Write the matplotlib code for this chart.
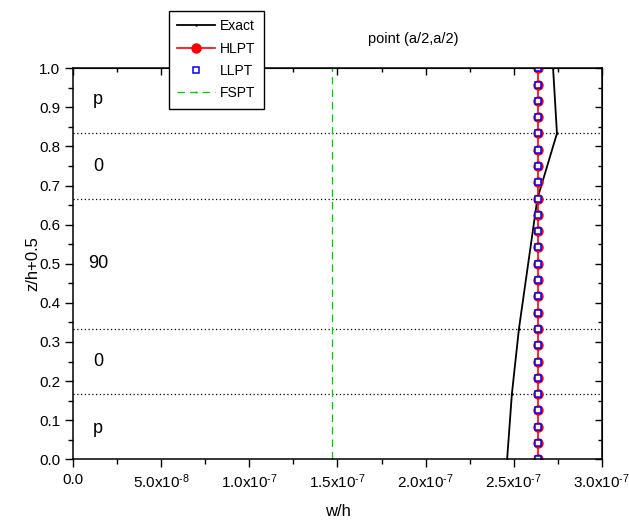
import numpy as np
import matplotlib
matplotlib.use("Agg")
import matplotlib.pyplot as plt
from matplotlib.ticker import MultipleLocator, FuncFormatter

plt.rcParams['font.family'] = ['Liberation Sans', 'DejaVu Sans']
plt.rcParams['mathtext.fontset'] = 'custom'
plt.rcParams['mathtext.rm'] = 'Liberation Sans'
plt.rcParams['mathtext.it'] = 'Liberation Sans'

# Datos
z_exact = [0.0, 1/6, 1/3, 2/3, 5/6, 1.0]
w_exact = [2.463e-7, 2.49e-7, 2.53e-7, 2.635e-7, 2.746e-7, 2.724e-7]

z_pts = list(np.arange(25) / 24)
w_hlpt = [2.64e-7] * 25
w_llpt = [2.64e-7] * 25

w_fspt = [1.47e-7, 1.47e-7]
z_fspt = [0.0, 1.0]

interfaces = [1/6, 1/3, 2/3, 5/6]
layer_names = ["p", "0", "90", "0", "p"]
layer_z = [0.92, 0.75, 0.5, 0.25, 0.08]

fig = plt.figure(figsize=(6.29, 5.22), dpi=100)
ax = fig.add_axes([0.1165, 0.1201, 0.8401, 0.7491])

l1, = ax.plot(w_exact, z_exact, color='black', lw=1.3, marker='.', ms=1.5, label='Exact')
l2, = ax.plot(w_hlpt, z_pts, color='red', lw=1.2, marker='o', ms=6.5, label='HLPT')
l3, = ax.plot(w_llpt, z_pts, ls='none', marker='s', ms=4, mfc='white', mec='blue', mew=1.1, label='LLPT')
l4, = ax.plot(w_fspt, z_fspt, color='#00cc00', lw=0.9, ls=(0, (6, 4)), marker='.', ms=1, label='FSPT')

for zi in interfaces:
    ax.axhline(zi, color='black', ls=(0, (1, 2)), lw=0.9, zorder=1)

for name, zi in zip(layer_names, layer_z):
    ax.text(1.4e-8, zi, name, ha='center', va='center', fontsize=13)

ax.set_xlim(0, 3.0e-7)
ax.set_ylim(0, 1.0)
ax.xaxis.set_major_locator(MultipleLocator(5e-8))
ax.xaxis.set_minor_locator(MultipleLocator(2.5e-8))
ax.yaxis.set_major_locator(MultipleLocator(0.1))
ax.yaxis.set_minor_locator(MultipleLocator(0.05))


def fmt_x(v, pos):
    if abs(v) < 1e-12:
        return '0.0'
    if v >= 1e-7:
        return '%.1fx10$^{\\text{-7}}$' % (v / 1e-7)
    return '%.1fx10$^{\\text{-8}}$' % (v / 1e-8)


ax.xaxis.set_major_formatter(FuncFormatter(fmt_x))
ax.yaxis.set_major_formatter(FuncFormatter(lambda v, p: '%.1f' % v))

ax.tick_params(which='both', direction='out', labelsize=11, width=1)
ax.tick_params(which='major', length=6)
ax.tick_params(which='minor', length=3.5)
# ticks interiores arriba y a la derecha
ax2 = ax.secondary_xaxis('top')
ax2.xaxis.set_major_locator(MultipleLocator(5e-8))
ax2.xaxis.set_minor_locator(MultipleLocator(2.5e-8))
ax2.tick_params(which='both', direction='in', labeltop=False, width=1)
ax2.tick_params(which='major', length=5)
ax2.tick_params(which='minor', length=3)
ax3 = ax.secondary_yaxis('right')
ax3.yaxis.set_major_locator(MultipleLocator(0.1))
ax3.yaxis.set_minor_locator(MultipleLocator(0.05))
ax3.tick_params(which='both', direction='in', labelright=False, width=1)
ax3.tick_params(which='major', length=5)
ax3.tick_params(which='minor', length=3)

for s in ax.spines.values():
    s.set_linewidth(1.1)

ax.set_xlabel('w/h', fontsize=12, labelpad=9)
ax.set_ylabel('z/h+0.5', fontsize=12, labelpad=-1)

fig.text(413.5 / 629, 1 - 39 / 522, 'point (a/2,a/2)', ha='center', va='center', fontsize=10.5)

leg = fig.legend(handles=[l1, l2, l3, l4], loc='upper left',
                 bbox_to_anchor=(169 / 629, 1 - 11 / 522), fontsize=10,
                 frameon=True, fancybox=False, framealpha=1, edgecolor='black',
                 handlelength=2.7, handletextpad=0.35, labelspacing=0.6,
                 borderpad=0.6, borderaxespad=0)
leg.get_frame().set_linewidth(1.0)

fig.savefig('out.png', dpi=100)
